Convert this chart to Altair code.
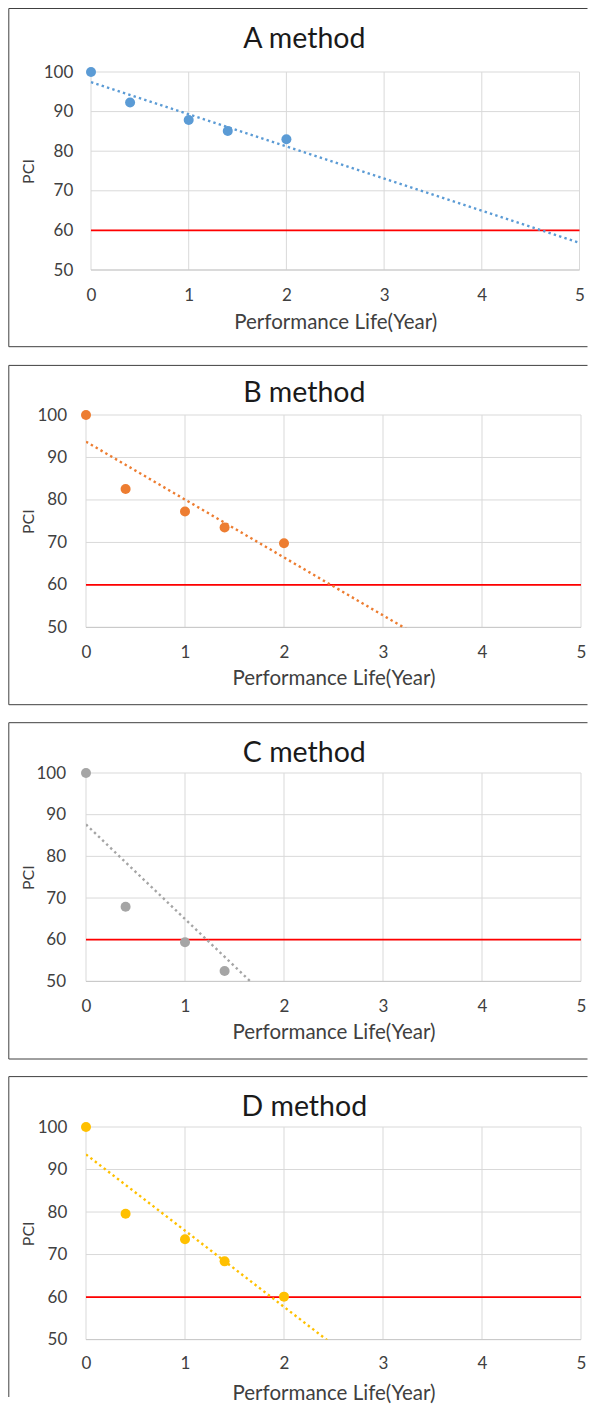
import altair as alt
import pandas as pd

# ---- data ----
years = [0, 0.4, 1, 1.4, 2]
pci_a = [100, 92.3, 87.9, 85.1, 83.0]
pci_b = [100, 82.6, 77.3, 73.5, 69.8]
pci_c = [100, 67.9, 59.4, 52.5, 49.6]
pci_d = [100, 79.6, 73.6, 68.4, 60.1]
methods = ["A method", "B method", "C method", "D method"]
colors = ["#5B9BD5", "#ED7D31", "#A5A5A5", "#FFC000"]
x_ticks = [0, 1, 2, 3, 4, 5]
y_ticks = [50, 60, 70, 80, 90, 100]
threshold = [60]

FONT = "Lato"
W = 495
LABEL_COLOR = "#404040"
GRID = "#d9d9d9"
FRAME = "#404040"
RIGHT = 501.5  # right end of the frame lines (kept inside the page)

# per-panel layout (pixels)
layouts = [
    dict(h=198, top=-63.5, bottom=274.7, xr=[5, 493.5], lp=13.2, xlp=17, ty=-32.7, tt=52.7),
    dict(h=212.4, top=-49.6, bottom=289.7, xr=[0, W], lp=19.5, xlp=17.4, ty=-22.3, tt=51.3),
    dict(h=208.4, top=-50.3, bottom=286.0, xr=[0, W], lp=20.5, xlp=17.4, ty=-19.6, tt=51),
    dict(h=212.6, top=-50.4, bottom=None, xr=[0, W], lp=19.2, xlp=15.8, ty=-19.7, tt=53.4),
]

series = [pci_a, pci_b, pci_c, pci_d]
dummy = pd.DataFrame({"k": [0]})
x_lo, x_hi = x_ticks[0], x_ticks[-1]
y_lo, y_hi = y_ticks[0], y_ticks[-1]


def panel(name, values, color, L):
    df = pd.DataFrame({"year": years, "pci": values})
    xs = alt.Scale(domain=[x_lo, x_hi], range=L["xr"], nice=False, zero=False)
    ys = alt.Scale(domain=[y_lo, y_hi], nice=False, zero=False)
    xaxis = alt.Axis(
        values=x_ticks, grid=False, ticks=False, domain=False, labelFlush=False,
        labelPadding=L["xlp"], labelFont=FONT, labelFontSize=17, labelColor=LABEL_COLOR,
        title="Performance Life(Year)", titleFont=FONT, titleFontSize=20.5,
        titleFontWeight="normal", titleColor=LABEL_COLOR,
        titleY=L["tt"], titleBaseline="middle",
    )
    yaxis = alt.Axis(
        values=y_ticks, grid=False, ticks=False, domain=False, labelFlush=False,
        labelPadding=L["lp"], labelFont=FONT, labelFontSize=17, labelColor=LABEL_COLOR,
        title="PCI", titleFont=FONT, titleFontSize=16, titleFontWeight="normal",
        titleColor=LABEL_COLOR, titleX=-57.5, titleY=L["h"] / 2, titleBaseline="middle",
    )

    xgrid_df = pd.DataFrame({"year": x_ticks, "lo": y_lo, "hi": y_hi})
    ygrid_df = pd.DataFrame({"pci": y_ticks, "lo": x_lo, "hi": x_hi})
    red_df = pd.DataFrame({"pci": threshold, "lo": x_lo, "hi": x_hi})
    base_df = pd.DataFrame({"pci": [y_lo], "lo": x_lo, "hi": x_hi})

    xgrid = alt.Chart(xgrid_df).mark_rule(color=GRID, strokeWidth=1).encode(
        x=alt.X("year:Q", scale=xs, axis=xaxis),
        y=alt.Y("lo:Q", scale=ys, axis=yaxis), y2="hi:Q",
    )
    ygrid = alt.Chart(ygrid_df).mark_rule(color=GRID, strokeWidth=1).encode(
        y=alt.Y("pci:Q", axis=yaxis), x=alt.X("lo:Q", axis=xaxis), x2="hi:Q"
    )
    base_line = alt.Chart(base_df).mark_rule(color="#c8c8c8", strokeWidth=1).encode(
        y=alt.Y("pci:Q", axis=yaxis), x=alt.X("lo:Q", axis=xaxis), x2="hi:Q"
    )
    red = alt.Chart(red_df).mark_rule(color="#FF0000", strokeWidth=1.8).encode(
        y=alt.Y("pci:Q", axis=yaxis), x=alt.X("lo:Q", axis=xaxis), x2="hi:Q"
    )
    pts = alt.Chart(df).transform_filter("datum.pci >= 50").mark_circle(
        size=100, color=color, opacity=1
    ).encode(
        x=alt.X("year:Q", axis=xaxis),
        y=alt.Y("pci:Q", axis=yaxis),
    )
    trend = alt.Chart(df).transform_regression("year", "pci", extent=[x_lo, x_hi]).mark_line(
        clip=True, color=color, strokeWidth=2.4, strokeDash=[2.4, 3.2]
    ).encode(x=alt.X("year:Q", axis=xaxis), y=alt.Y("pci:Q", axis=yaxis))

    title = alt.Chart(pd.DataFrame({"title": [name]})).mark_text(
        font=FONT, fontSize=28.5, color="#1a1a1a", align="center", baseline="middle"
    ).encode(text="title:N", x=alt.value(218.3), y=alt.value(L["ty"]))

    left_end = L["bottom"] if L["bottom"] is not None else 270
    frame = [
        alt.Chart(dummy).mark_rule(color=FRAME, strokeWidth=1).encode(
            x=alt.value(-77.2), x2=alt.value(RIGHT), y=alt.value(L["top"])
        ),
        alt.Chart(dummy).mark_rule(color=FRAME, strokeWidth=1).encode(
            x=alt.value(-77.2), y=alt.value(L["top"]), y2=alt.value(left_end)
        ),
    ]
    if L["bottom"] is not None:
        frame.append(
            alt.Chart(dummy).mark_rule(color=FRAME, strokeWidth=1).encode(
                x=alt.value(-77.2), x2=alt.value(RIGHT), y=alt.value(L["bottom"])
            )
        )

    return alt.layer(xgrid, ygrid, base_line, red, pts, trend, title, *frame).properties(
        width=W, height=L["h"]
    )


charts = [panel(m, s, c, L) for m, s, c, L in zip(methods, series, colors, layouts)]
chart = alt.vconcat(*charts, spacing=16).configure_view(stroke=None).properties(
    padding=0, background="white"
)
chart.save("out.html", embed_options={"renderer": "svg", "actions": False})
